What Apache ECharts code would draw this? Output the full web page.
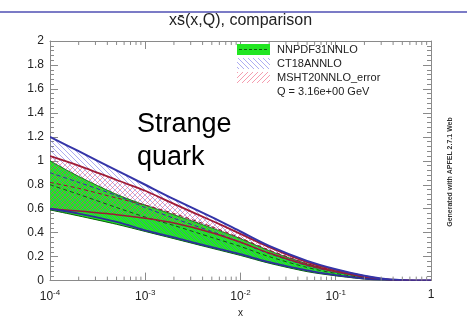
<!DOCTYPE html>
<html>
<head>
<meta charset="utf-8">
<script src="https://cdn.jsdelivr.net/npm/echarts@6/dist/echarts.min.js"></script>
<style>
  html, body { margin: 0; padding: 0; background: #fff; }
  #chart { width: 467px; height: 323px; }
</style>
</head>
<body>
<div id="chart"></div>
<script>
// x grid (momentum fraction) shared by every band
const xs = [1e-4, 2e-4, 5e-4, 1e-3, 2e-3, 5e-3, 1e-2, 2e-2, 5e-2, 0.1, 0.2, 0.3, 0.5, 0.7, 1];

// NNPDF3.1 NNLO: lower edge, upper edge, central value
const nnpdfLo = [0.59, 0.54, 0.47, 0.41, 0.35, 0.27, 0.21, 0.145, 0.075, 0.04, 0.013, 0.005, 0.001, 0.0, 0.0];
const nnpdfHi = [1.00, 0.87, 0.72, 0.63, 0.55, 0.44, 0.35, 0.25, 0.14, 0.08, 0.03, 0.012, 0.002, 0.0003, 0.0];
const nnpdfCv = [0.80, 0.72, 0.61, 0.53, 0.46, 0.36, 0.285, 0.20, 0.11, 0.06, 0.022, 0.009, 0.0015, 0.0, 0.0];

// CT18A NNLO
const ct18Lo = [0.60, 0.56, 0.49, 0.42, 0.36, 0.28, 0.22, 0.155, 0.085, 0.045, 0.016, 0.006, 0.001, 0.0, 0.0];
const ct18Hi = [1.20, 1.08, 0.92, 0.80, 0.68, 0.53, 0.41, 0.29, 0.165, 0.095, 0.04, 0.017, 0.003, 0.0005, 0.0];
const ct18Cv = [0.90, 0.82, 0.71, 0.61, 0.52, 0.41, 0.32, 0.225, 0.125, 0.07, 0.028, 0.011, 0.002, 0.0002, 0.0];

// MSHT20 NNLO
const mshtLo = [0.60, 0.58, 0.55, 0.52, 0.48, 0.40, 0.32, 0.23, 0.13, 0.075, 0.03, 0.012, 0.002, 0.0003, 0.0];
const mshtHi = [1.04, 0.96, 0.84, 0.75, 0.64, 0.50, 0.39, 0.28, 0.155, 0.09, 0.037, 0.015, 0.003, 0.0004, 0.0];
const mshtCv = [0.82, 0.77, 0.69, 0.63, 0.56, 0.45, 0.355, 0.255, 0.142, 0.082, 0.033, 0.013, 0.0025, 0.0003, 0.0];

// axis ranges and tick labels
const xMin = 1e-4, xMax = 1;
const yMin = 0, yMax = 2, yStep = 0.2;
const legendNames = ['NNPDF31NNLO', 'CT18ANNLO', 'MSHT20NNLO_error'];
const scaleNote = 'Q = 3.16e+00 GeV';

// minor log ticks (2..9 within every decade)
const minorX = [];
for (let e = -4; e < 0; e++) for (let k = 2; k <= 9; k++) minorX.push(k * Math.pow(10, e));

function hatch(color, dir) {
  const s = 5;
  const c = document.createElement('canvas');
  c.width = s; c.height = s;
  const g = c.getContext('2d');
  g.strokeStyle = color; g.lineWidth = 1;
  g.beginPath();
  if (dir > 0) { // "/"
    g.moveTo(-1, s + 1); g.lineTo(s + 1, -1);
    g.moveTo(-1, 1); g.lineTo(1, -1);
    g.moveTo(s - 1, s + 1); g.lineTo(s + 1, s - 1);
  } else { // "\"
    g.moveTo(-1, -1); g.lineTo(s + 1, s + 1);
    g.moveTo(s - 1, -1); g.lineTo(s + 1, 1);
    g.moveTo(-1, s - 1); g.lineTo(1, s + 1);
  }
  g.stroke();
  return c;
}

const green = '#22e622';
const blueHatch = { image: hatch('rgba(90,90,230,0.5)', -1), repeat: 'repeat' };
const redHatch = { image: hatch('rgba(235,60,95,0.5)', 1), repeat: 'repeat' };

// smooth cubic segments through pixel points (Catmull-Rom style)
function curveCmds(pts, move) {
  let d = (move ? 'M' : 'L') + pts[0][0] + ' ' + pts[0][1];
  const t = 1 / 7;
  for (let i = 0; i < pts.length - 1; i++) {
    const p0 = pts[i - 1] || pts[i], p1 = pts[i], p2 = pts[i + 1], p3 = pts[i + 2] || pts[i + 1];
    const c1x = p1[0] + (p2[0] - p0[0]) * t, c1y = p1[1] + (p2[1] - p0[1]) * t;
    const c2x = p2[0] - (p3[0] - p1[0]) * t, c2y = p2[1] - (p3[1] - p1[1]) * t;
    d += 'C' + c1x + ' ' + c1y + ' ' + c2x + ' ' + c2y + ' ' + p2[0] + ' ' + p2[1];
  }
  return d;
}

function toPixels(api, arr) {
  return xs.map((x, i) => api.coord([x, arr[i]]));
}

function band(lo, hi, fill, z) {
  return {
    type: 'custom', silent: true, clip: true, z: z,
    data: [[xs[0], lo[0]]],
    renderItem: (params, api) => {
      const top = toPixels(api, hi);
      const bot = toPixels(api, lo).reverse();
      const d = curveCmds(top, true) + curveCmds(bot, false) + 'Z';
      return { type: 'path', shape: { pathData: d }, style: { fill: fill, stroke: null } };
    }
  };
}

function edge(arr, color, width, dash) {
  return {
    type: 'custom', silent: true, clip: true, z: 4,
    data: [[xs[0], arr[0]]],
    renderItem: (params, api) => {
      const d = curveCmds(toPixels(api, arr), true);
      return { type: 'path', shape: { pathData: d },
        style: { fill: null, stroke: color, lineWidth: width, lineDash: dash || null } };
    }
  };
}

const axisGray = '#8a8a8a';
const labelColor = '#222';
const font = 'Liberation Sans, Arial, sans-serif';

const chart = echarts.init(document.getElementById('chart'), null, { renderer: 'canvas' });

chart.setOption({
  animation: false,
  backgroundColor: '#fff',
  textStyle: { fontFamily: font },
  title: {
    text: 'xs\u0304(x,Q), comparison',
    left: 164, top: 8,
    textStyle: { fontFamily: font, fontSize: 16, fontWeight: 'normal', color: '#222' }
  },
  grid: { left: 50, right: 36, top: 41, bottom: 29 },
  xAxis: [
    {
      type: 'log', logBase: 10, min: xMin, max: xMax,
      name: 'x', nameLocation: 'middle', nameGap: 20,
      nameTextStyle: { fontFamily: font, fontSize: 10, color: labelColor },
      axisLine: { show: true, onZero: false, lineStyle: { color: axisGray, width: 1 } },
      axisTick: { show: true, inside: true, length: 8, lineStyle: { color: axisGray } },
      splitLine: { show: false },
      axisLabel: {
        margin: 8, color: labelColor,
        formatter: v => {
          const e = Math.round(Math.log10(v));
          return e === 0 ? '{b|1}' : '{b|10}{s|' + e + '}';
        },
        rich: {
          b: { fontFamily: font, fontSize: 12, color: labelColor },
          s: { fontFamily: font, fontSize: 8, color: labelColor, padding: [0, 0, 9, 0] }
        }
      }
    },
    {
      type: 'log', logBase: 10, min: xMin, max: xMax, position: 'top',
      axisLine: { show: true, onZero: false, lineStyle: { color: axisGray, width: 1 } },
      axisTick: { show: true, inside: true, length: 8, lineStyle: { color: axisGray } },
      axisLabel: { show: false }, splitLine: { show: false }
    }
  ],
  yAxis: [
    {
      type: 'value', min: yMin, max: yMax, interval: yStep,
      axisLine: { show: true, lineStyle: { color: axisGray, width: 1 } },
      axisTick: { show: true, inside: true, length: 8, lineStyle: { color: axisGray } },
      minorTick: { show: true, splitNumber: 5, length: 4, lineStyle: { color: axisGray } },
      splitLine: { show: false },
      axisLabel: { margin: 6, fontSize: 12, color: labelColor, fontFamily: font,
        formatter: v => String(Number(v.toFixed(1))) }
    },
    {
      type: 'value', min: yMin, max: yMax, interval: yStep, position: 'right',
      axisLine: { show: true, lineStyle: { color: axisGray, width: 1 } },
      axisTick: { show: true, inside: true, length: 8, lineStyle: { color: axisGray } },
      minorTick: { show: true, splitNumber: 5, length: 4, lineStyle: { color: axisGray } },
      splitLine: { show: false }, axisLabel: { show: false }
    }
  ],
  series: [
    band(nnpdfLo, nnpdfHi, green, 1),
    band(ct18Lo, ct18Hi, blueHatch, 2),
    band(mshtLo, mshtHi, redHatch, 3),
    edge(nnpdfLo, '#0b5e0b', 1),
    edge(nnpdfHi, '#0b5e0b', 0.8),
    edge(nnpdfCv, '#125412', 1, [4, 3]),
    edge(ct18Cv, '#3030a0', 1, [4, 3]),
    edge(mshtCv, '#8a1530', 1, [4, 3]),
    edge(mshtLo, '#9a1a35', 1.5),
    edge(mshtHi, '#a01c38', 1.8),
    edge(ct18Lo, '#2e2e9a', 1.8),
    edge(ct18Hi, '#3434a8', 2),
    {
      // log minor ticks on bottom and top frame
      type: 'custom', silent: true, clip: false, z: 5,
      data: minorX.map(v => [v, yMin]),
      renderItem: (params, api) => {
        const x = api.value(0);
        const b = api.coord([x, yMin]);
        const t = api.coord([x, yMax]);
        const st = { stroke: axisGray, lineWidth: 1 };
        return { type: 'group', children: [
          { type: 'line', shape: { x1: b[0], y1: b[1], x2: b[0], y2: b[1] - 4 }, style: st },
          { type: 'line', shape: { x1: t[0], y1: t[1], x2: t[0], y2: t[1] + 4 }, style: st }
        ] };
      }
    }
  ],
  graphic: [
    { type: 'line', shape: { x1: 0, y1: 12, x2: 467, y2: 12 }, style: { stroke: '#7b7bc6', lineWidth: 2 }, z: 10 },
    // legend markers
    { type: 'rect', shape: { x: 237, y: 44, width: 33, height: 11 }, style: { fill: green }, z: 10 },
    { type: 'line', shape: { x1: 239, y1: 49.5, x2: 268, y2: 49.5 }, style: { stroke: '#125412', lineWidth: 1, lineDash: [3, 2] }, z: 11 },
    { type: 'rect', shape: { x: 237, y: 58, width: 33, height: 11 }, style: { fill: blueHatch }, z: 10 },
    { type: 'rect', shape: { x: 237, y: 72, width: 33, height: 11 }, style: { fill: redHatch }, z: 10 },
    { type: 'text', x: 277, y: 49.5, style: { text: legendNames[0], fontFamily: font, fontSize: 11, fill: '#222', verticalAlign: 'middle' }, z: 10 },
    { type: 'text', x: 277, y: 63.5, style: { text: legendNames[1], fontFamily: font, fontSize: 11, fill: '#222', verticalAlign: 'middle' }, z: 10 },
    { type: 'text', x: 277, y: 77.5, style: { text: legendNames[2], fontFamily: font, fontSize: 11, fill: '#222', verticalAlign: 'middle' }, z: 10 },
    { type: 'text', x: 277, y: 91.5, style: { text: scaleNote, fontFamily: font, fontSize: 11, fill: '#222', verticalAlign: 'middle' }, z: 10 },
    // annotation
    { type: 'text', x: 137, y: 124.5, style: { text: 'Strange', fontFamily: font, fontSize: 27, fill: '#000', verticalAlign: 'middle' }, z: 10 },
    { type: 'text', x: 137, y: 158, style: { text: 'quark', fontFamily: font, fontSize: 27, fill: '#000', verticalAlign: 'middle' }, z: 10 },
    // generator stamp
    { type: 'text', x: 450, y: 172, rotation: Math.PI / 2,
      style: { text: 'Generated with APFEL 2.7.1 Web', fontFamily: font, fontSize: 7, fontWeight: 'bold', fill: '#333', align: 'center', verticalAlign: 'middle' }, z: 10 }
  ]
});
</script>
</body>
</html>
